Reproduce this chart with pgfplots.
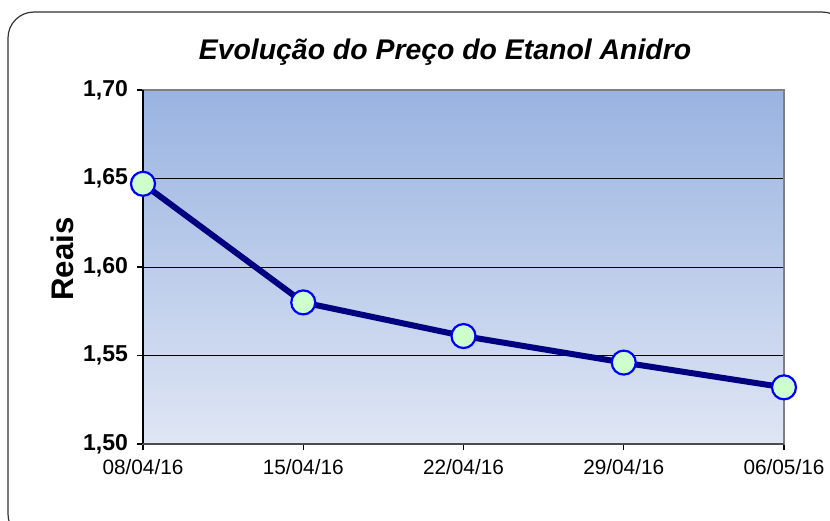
\documentclass[border=0pt]{standalone}
\usepackage{pgfplots}
\pgfplotsset{compat=1.18}
\usepackage{fontspec}
\setmainfont{Liberation Sans}
\definecolor{topc}{HTML}{99B3E1}
\definecolor{botc}{HTML}{DFE6F4}
\definecolor{navy}{HTML}{000080}
\definecolor{mfill}{HTML}{CCFFCC}
\begin{document}
\begin{tikzpicture}
\useasboundingbox (0pt,0pt) rectangle (415pt,-260pt);
\draw[black!80, line width=0.6pt, rounded corners=13pt] (4pt,-6pt) rectangle (424pt,-270pt);
\node[font=\fontsize{14.2}{16}\selectfont\bfseries\itshape] at (222.5pt,-26pt) {Evolução do Preço do Etanol Anidro};
\node[font=\fontsize{15.6}{17}\selectfont\bfseries, rotate=90] at (31pt,-129.5pt) {Reais};
\begin{axis}[
  at={(71.5pt,-222pt)}, anchor=south west,
  scale only axis, width=320.5pt, height=177pt,
  xmin=0, xmax=4, ymin=1.5, ymax=1.7,
  xtick={0,1,2,3,4},
  xticklabels={08/04/16,15/04/16,22/04/16,29/04/16,06/05/16},
  ytick={1.5,1.55,1.6,1.65,1.7},
  /pgf/number format/use comma,
  /pgf/number format/fixed,
  /pgf/number format/fixed zerofill,
  /pgf/number format/precision=2,
  /pgf/number format/assume math mode=true,
  yticklabel style={font=\fontsize{11.5}{13}\selectfont\bfseries, xshift=-1pt},
  xticklabel style={font=\fontsize{10.4}{12}\selectfont, yshift=-1pt},
  tick align=outside, tick pos=left,
  major tick length=3pt,
  tick style={black, line width=0.6pt},
  ymajorgrids, grid style={black, line width=0.5pt},
  axis line style={draw=black!50, line width=1pt},
  axis background/.style={top color=topc, bottom color=botc},
  clip=false,
]
\draw[black, line width=0.6pt] (rel axis cs:0,0) -- (rel axis cs:0,1);
\draw[black!70, line width=1pt] (rel axis cs:0,0) -- (rel axis cs:1,0);
\addplot[navy, line width=3pt, mark=*, mark size=6pt,
  mark options={fill=mfill, draw=blue, line width=1.1pt}]
  coordinates {(0,1.647) (1,1.580) (2,1.561) (3,1.546) (4,1.532)};
\end{axis}
\end{tikzpicture}
\end{document}
